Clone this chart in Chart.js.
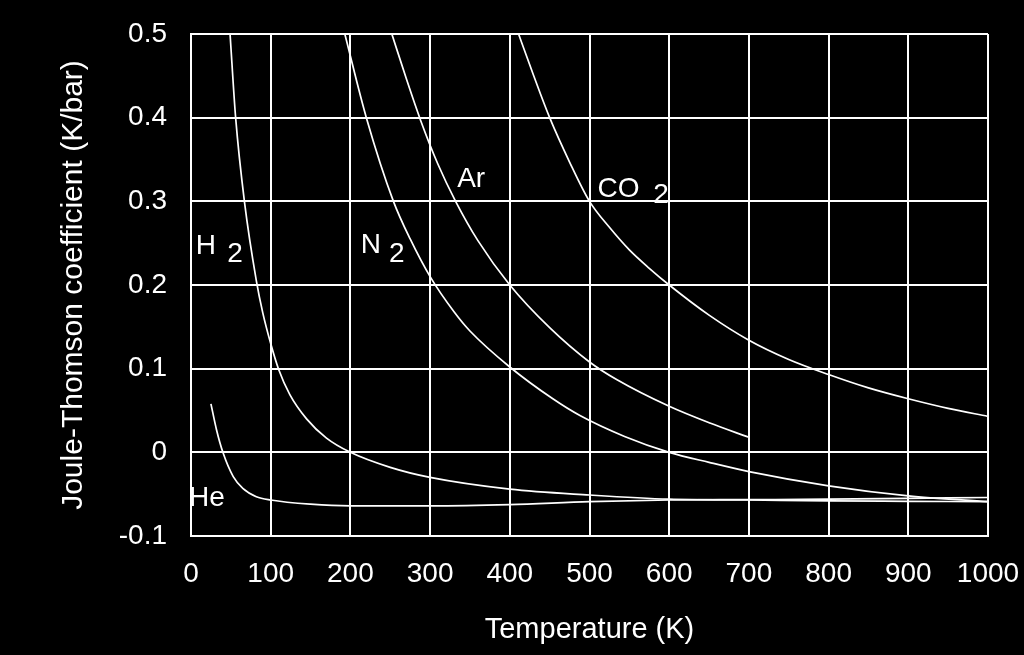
<!DOCTYPE html>
<html>
<head>
<meta charset="utf-8">
<script src="https://cdn.jsdelivr.net/npm/chart.js@4.4.0/dist/chart.umd.min.js"></script>
<style>
html,body{margin:0;padding:0;background:#000;}
#wrap{width:1024px;height:655px;position:relative;}
</style>
</head>
<body>
<div id="wrap"><canvas id="c" width="1024" height="655"></canvas></div>
<script>
// ---- data ----
const xTickLabels = ['0','100','200','300','400','500','600','700','800','900','1000'];
const yTickLabels = ['-0.1','0','0.1','0.2','0.3','0.4','0.5'];

const h2T = [49, 56, 67, 82, 90, 100, 110, 124, 145, 170, 200, 250, 300, 400, 500, 600, 700, 800, 900, 1000];
const h2V = [0.5, 0.4, 0.3, 0.205, 0.167, 0.13, 0.099, 0.069, 0.04, 0.017, 0, -0.018, -0.03, -0.044, -0.051, -0.056, -0.057, -0.058, -0.0585, -0.059];

const heT = [25, 32, 40, 53, 65, 82, 100, 150, 200, 300, 400, 500, 600, 700, 800, 900, 1000];
const heV = [0.058, 0.027, 0, -0.029, -0.043, -0.053, -0.057, -0.062, -0.064, -0.064, -0.0625, -0.059, -0.057, -0.0565, -0.056, -0.055, -0.054];

const n2T = [193, 220, 254, 275, 300, 330, 350, 400, 454, 488, 544, 600, 650, 700, 800, 900, 1000];
const n2V = [0.5, 0.4, 0.3, 0.255, 0.21, 0.168, 0.145, 0.102, 0.064, 0.044, 0.019, 0, -0.012, -0.023, -0.040, -0.052, -0.059];

const arT = [252, 270, 288, 310, 332, 360, 400, 450, 500, 534, 600, 651, 700];
const arV = [0.5, 0.447, 0.397, 0.344, 0.3, 0.253, 0.2, 0.149, 0.108, 0.087, 0.055, 0.035, 0.018];

const co2T = [411, 430, 450, 475, 500, 525, 550, 575, 600, 650, 700, 750, 800, 850, 900, 950, 1000];
const co2V = [0.5, 0.45, 0.4, 0.347, 0.3, 0.269, 0.242, 0.22, 0.2, 0.164, 0.134, 0.111, 0.093, 0.077, 0.064, 0.0525, 0.043];

const seriesNames = ['H2', 'He', 'N2', 'Ar', 'CO2'];

// ---- helpers ----
function pts(t, v) { return t.map((x, i) => ({x: x, y: v[i]})); }
const FONT = "'Liberation Sans', Arial, sans-serif";

const bgPlugin = {
  id: 'bg',
  beforeDraw(chart) {
    const ctx = chart.ctx;
    ctx.save();
    ctx.fillStyle = '#000';
    ctx.fillRect(0, 0, chart.width, chart.height);
    ctx.restore();
  }
};

// curve labels, placed in data units (subscript digits lowered)
const curveLabels = [
  {t: 'H', x: 6, y: 0.237}, {t: '2', x: 45.5, y: 0.227},
  {t: 'N', x: 213, y: 0.238}, {t: '2', x: 248.5, y: 0.227},
  {t: 'Ar', x: 334, y: 0.3173},
  {t: 'CO', x: 510, y: 0.3054}, {t: '2', x: 580, y: 0.2975},
  {t: 'He', x: -2.5, y: -0.0642}
];

const labelPlugin = {
  id: 'curveLabels',
  afterDatasetsDraw(chart) {
    const ctx = chart.ctx;
    const xs = chart.scales.x, ys = chart.scales.y;
    ctx.save();
    ctx.fillStyle = '#fff';
    ctx.font = "28px " + FONT;
    ctx.textAlign = 'left';
    ctx.textBaseline = 'alphabetic';
    curveLabels.forEach(l => {
      ctx.fillText(l.t, xs.getPixelForValue(l.x), ys.getPixelForValue(l.y));
    });
    ctx.restore();
  }
};

function ds(name, t, v) {
  return {
    label: name,
    data: pts(t, v),
    showLine: true,
    borderColor: '#fff',
    borderWidth: 1.7,
    pointRadius: 0,
    fill: false,
    cubicInterpolationMode: 'monotone'
  };
}

new Chart(document.getElementById('c'), {
  type: 'scatter',
  data: {
    datasets: [
      ds(seriesNames[0], h2T, h2V),
      ds(seriesNames[1], heT, heV),
      ds(seriesNames[2], n2T, n2V),
      ds(seriesNames[3], arT, arV),
      ds(seriesNames[4], co2T, co2V)
    ]
  },
  options: {
    responsive: false,
    animation: false,
    devicePixelRatio: 1,
    layout: {padding: {left: 0, right: 36, top: 34, bottom: 0}},
    plugins: {legend: {display: false}, tooltip: {enabled: false}},
    scales: {
      x: {
        type: 'linear',
        min: 0, max: 1000,
        afterFit(s) { s.height = 119; s.paddingLeft = 0; s.paddingRight = 0; s.paddingTop = 0; s.paddingBottom = 0; },
        ticks: {
          stepSize: 100,
          color: '#fff',
          padding: 21,
          maxRotation: 0,
          font: {family: FONT, size: 28},
          callback: (v, i) => xTickLabels[i]
        },
        grid: {color: '#fff', lineWidth: 2, drawTicks: false},
        border: {display: true, color: '#fff', width: 2},
        title: {
          display: true,
          text: 'Temperature (K)',
          color: '#fff',
          font: {family: FONT, size: 29},
          padding: {top: 0, bottom: 8}
        }
      },
      y: {
        type: 'linear',
        min: -0.1, max: 0.5,
        afterFit(s) { s.width = 191; s.paddingLeft = 0; s.paddingRight = 0; s.paddingTop = 0; s.paddingBottom = 0; },
        ticks: {
          stepSize: 0.1,
          color: '#fff',
          padding: 24,
          font: {family: FONT, size: 28},
          callback: (v, i) => yTickLabels[i]
        },
        grid: {color: '#fff', lineWidth: 2, drawTicks: false},
        border: {display: true, color: '#fff', width: 2},
        title: {
          display: true,
          text: 'Joule-Thomson coefficient (K/bar)',
          color: '#fff',
          font: {family: FONT, size: 30},
          padding: {top: 56, bottom: 0}
        }
      }
    }
  },
  plugins: [bgPlugin, labelPlugin]
});
</script>
</body>
</html>
